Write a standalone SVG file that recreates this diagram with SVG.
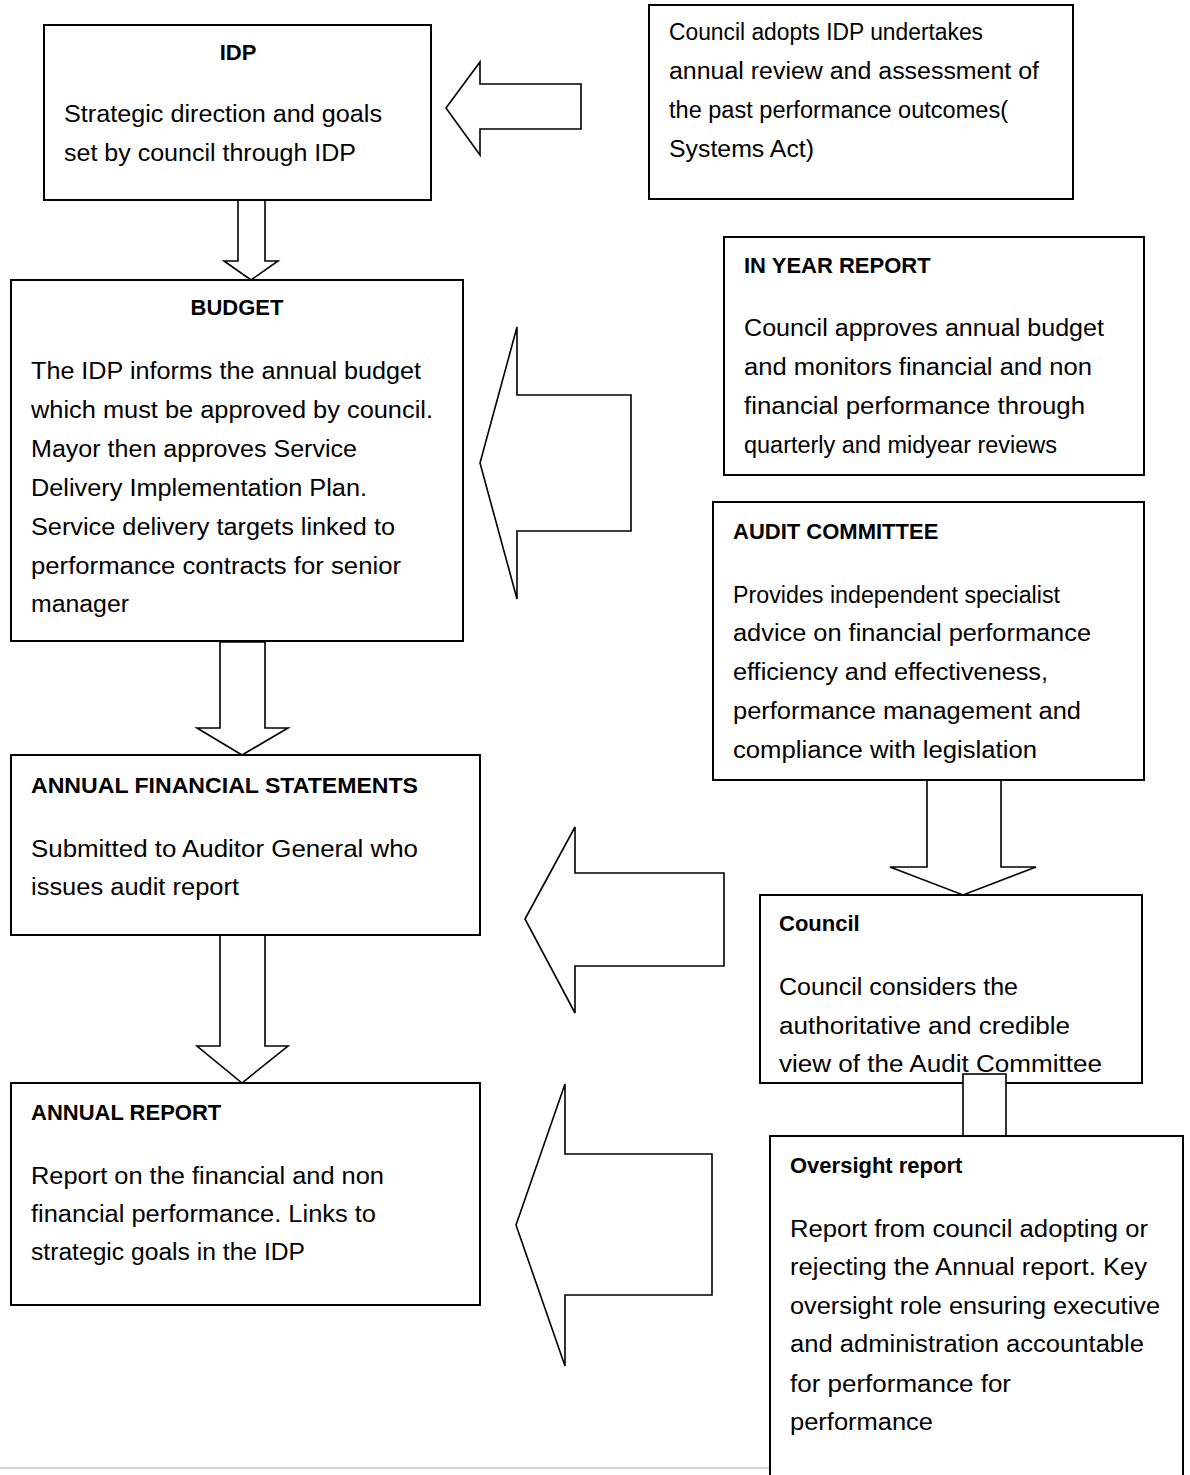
<svg xmlns="http://www.w3.org/2000/svg" width="1190" height="1475" viewBox="0 0 1190 1475">
<style>
.box{fill:#fff;stroke:#000;stroke-width:2}
.arr{fill:#fff;stroke:#000;stroke-width:1.6;stroke-linejoin:miter}
text{font-family:"Liberation Sans",Arial,sans-serif;font-size:23px;fill:#000}
.t{font-weight:bold;font-size:22px}
</style>
<rect width="1190" height="1475" fill="#fff"/>
<line x1="0" y1="1468" x2="770" y2="1468" stroke="#d4d4d4" stroke-width="2"/>
<g id="connectors">
<polygon class="arr" points="446,108 480,62 480,84 581,84 581,129 480,129 480,155"/>
<polygon class="arr" points="238,200 265,200 265,261 278,261 251,280 224,261 238,261"/>
<polygon class="arr" points="480,463 517,327 517,395 631,395 631,531 517,531 517,599"/>
<polygon class="arr" points="220,642 265,642 265,728 288,728 242,755 197,728 220,728"/>
<polygon class="arr" points="927,780 1001,780 1001,867 1036,867 963,895 890,867 927,867"/>
<polygon class="arr" points="525,919 575,827 575,873 724,873 724,966 575,966 575,1013"/>
<polygon class="arr" points="220,935 265,935 265,1046 288,1046 242,1083 197,1046 220,1046"/>
<polygon class="arr" points="516,1225 565,1084 565,1154 712,1154 712,1295 565,1295 565,1366"/>
</g>
<g id="idp">
<rect class="box" x="44" y="25" width="387" height="175"/>
<text class="t" x="238" y="60" text-anchor="middle">IDP</text>
<text x="64" y="122" textLength="318" lengthAdjust="spacingAndGlyphs">Strategic direction and goals</text>
<text x="64" y="161" textLength="292" lengthAdjust="spacingAndGlyphs">set by council through IDP</text>
</g>
<g id="council-adopts">
<rect class="box" x="649" y="5" width="424" height="194"/>
<text x="669" y="40" textLength="314" lengthAdjust="spacingAndGlyphs">Council adopts IDP undertakes</text>
<text x="669" y="79" textLength="370" lengthAdjust="spacingAndGlyphs">annual review and assessment of</text>
<text x="669" y="118" textLength="339" lengthAdjust="spacingAndGlyphs">the past performance outcomes(</text>
<text x="669" y="157" textLength="145" lengthAdjust="spacingAndGlyphs">Systems Act)</text>
</g>
<g id="budget">
<rect class="box" x="11" y="280" width="452" height="361"/>
<text class="t" x="237" y="315" text-anchor="middle">BUDGET</text>
<text x="31" y="379" textLength="390" lengthAdjust="spacingAndGlyphs">The IDP informs the annual budget</text>
<text x="31" y="418" textLength="402" lengthAdjust="spacingAndGlyphs">which must be approved by council.</text>
<text x="31" y="457" textLength="326" lengthAdjust="spacingAndGlyphs">Mayor then approves Service</text>
<text x="31" y="496" textLength="336" lengthAdjust="spacingAndGlyphs">Delivery Implementation Plan.</text>
<text x="31" y="535" textLength="364" lengthAdjust="spacingAndGlyphs">Service delivery targets linked to</text>
<text x="31" y="574" textLength="370" lengthAdjust="spacingAndGlyphs">performance contracts for senior</text>
<text x="31" y="612" textLength="98" lengthAdjust="spacingAndGlyphs">manager</text>
</g>
<g id="in-year-report">
<rect class="box" x="724" y="237" width="420" height="238"/>
<text class="t" x="744" y="273">IN YEAR REPORT</text>
<text x="744" y="336" textLength="360" lengthAdjust="spacingAndGlyphs">Council approves annual budget</text>
<text x="744" y="375" textLength="348" lengthAdjust="spacingAndGlyphs">and monitors financial and non</text>
<text x="744" y="414" textLength="341" lengthAdjust="spacingAndGlyphs">financial performance through</text>
<text x="744" y="453" textLength="313" lengthAdjust="spacingAndGlyphs">quarterly and midyear reviews</text>
</g>
<g id="audit-committee">
<rect class="box" x="713" y="502" width="431" height="278"/>
<text class="t" x="733" y="539">AUDIT COMMITTEE</text>
<text x="733" y="603" textLength="327" lengthAdjust="spacingAndGlyphs">Provides independent specialist</text>
<text x="733" y="641" textLength="358" lengthAdjust="spacingAndGlyphs">advice on financial performance</text>
<text x="733" y="680" textLength="315" lengthAdjust="spacingAndGlyphs">efficiency and effectiveness,</text>
<text x="733" y="719" textLength="348" lengthAdjust="spacingAndGlyphs">performance management and</text>
<text x="733" y="758" textLength="304" lengthAdjust="spacingAndGlyphs">compliance with legislation</text>
</g>
<g id="afs">
<rect class="box" x="11" y="755" width="469" height="180"/>
<text class="t" x="31" y="793" textLength="387" lengthAdjust="spacingAndGlyphs">ANNUAL FINANCIAL STATEMENTS</text>
<text x="31" y="857" textLength="387" lengthAdjust="spacingAndGlyphs">Submitted to Auditor General who</text>
<text x="31" y="895" textLength="208" lengthAdjust="spacingAndGlyphs">issues audit report</text>
</g>
<g id="council">
<rect class="box" x="760" y="895" width="382" height="188"/>
<text class="t" x="779" y="931">Council</text>
<text x="779" y="995" textLength="239" lengthAdjust="spacingAndGlyphs">Council considers the</text>
<text x="779" y="1034" textLength="291" lengthAdjust="spacingAndGlyphs">authoritative and credible</text>
<text x="779" y="1072" textLength="323" lengthAdjust="spacingAndGlyphs">view of the Audit Committee</text>
</g>
<g id="annual-report">
<rect class="box" x="11" y="1083" width="469" height="222"/>
<text class="t" x="31" y="1120">ANNUAL REPORT</text>
<text x="31" y="1184" textLength="353" lengthAdjust="spacingAndGlyphs">Report on the financial and non</text>
<text x="31" y="1222" textLength="345" lengthAdjust="spacingAndGlyphs">financial performance. Links to</text>
<text x="31" y="1260" textLength="274" lengthAdjust="spacingAndGlyphs">strategic goals in the IDP</text>
</g>
<g id="link">
<rect class="arr" x="963" y="1074" width="43" height="62"/>
</g>
<g id="oversight">
<rect class="box" x="770" y="1136" width="413" height="360"/>
<text class="t" x="790" y="1173">Oversight report</text>
<text x="790" y="1237" textLength="358" lengthAdjust="spacingAndGlyphs">Report from council adopting or</text>
<text x="790" y="1275" textLength="357" lengthAdjust="spacingAndGlyphs">rejecting the Annual report. Key</text>
<text x="790" y="1314" textLength="370" lengthAdjust="spacingAndGlyphs">oversight role ensuring executive</text>
<text x="790" y="1352" textLength="354" lengthAdjust="spacingAndGlyphs">and administration accountable</text>
<text x="790" y="1392" textLength="221" lengthAdjust="spacingAndGlyphs">for performance for</text>
<text x="790" y="1430" textLength="143" lengthAdjust="spacingAndGlyphs">performance</text>
</g>
</svg>
